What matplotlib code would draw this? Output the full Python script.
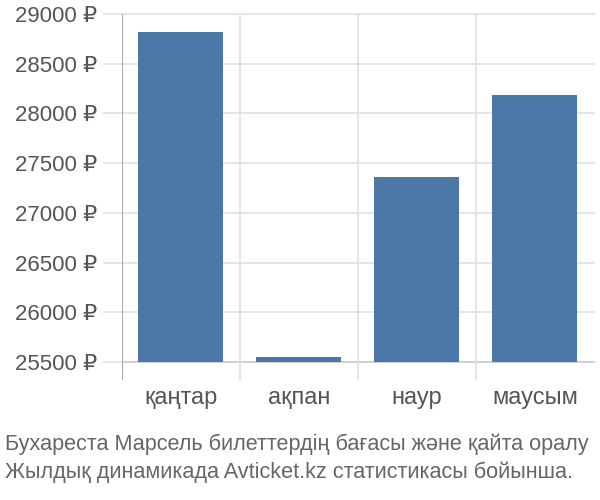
import numpy as np
import matplotlib.pyplot as plt

plt.rcParams['font.family'] = ['Liberation Sans', 'DejaVu Sans']

# данные
months = ['қаңтар', 'ақпан', 'наур', 'маусым']
prices = [28820, 25550, 27365, 28185]
yticks = [25500, 26000, 26500, 27000, 27500, 28000, 28500, 29000]
caption = ('Бухареста Марсель билеттердің бағасы және қайта оралу\n'
           'Жылдық динамикада Avticket.kz статистикасы бойынша.')

base = 25500
fig = plt.figure(figsize=(6, 5), dpi=100)
ax = fig.add_axes([0.203, 0.24, 0.787, 0.732])

x = np.arange(len(months))
ax.bar(x, np.array(prices) - base, bottom=base, width=0.72, color='#4c78a8', zorder=3)

ax.set_xlim(-0.5, len(months) - 0.5)
ax.set_ylim(25320, 29000)
ax.set_yticks(yticks)
ax.set_yticklabels([f'{v} ₽' for v in yticks])
ax.set_xticks(x)
ax.set_xticklabels(months)

# сетка
for v in yticks:
    ax.axhline(v, color='#c8c8c8' if v == base else '#e0e0e0', lw=1.2, zorder=1, clip_on=False)
for b in np.arange(0.5, len(months) - 0.5):
    ax.axvline(b, color='#e0e0e0', lw=1.2, zorder=1)
ax.axvline(-0.5, color='#aaaaaa', lw=1.5, zorder=2)

for s in ax.spines.values():
    s.set_visible(False)
ax.tick_params(axis='y', length=14, color='#e0e0e0', width=1.2, pad=4, labelsize=16, labelcolor='#555555')
ax.tick_params(axis='x', length=0, pad=5, labelsize=17, labelcolor='#555555')

fig.text(0.008, 0.034, caption, fontsize=15.6, color='#666666', ha='left', va='bottom', linespacing=1.4)

fig.savefig('out.png', dpi=100)
